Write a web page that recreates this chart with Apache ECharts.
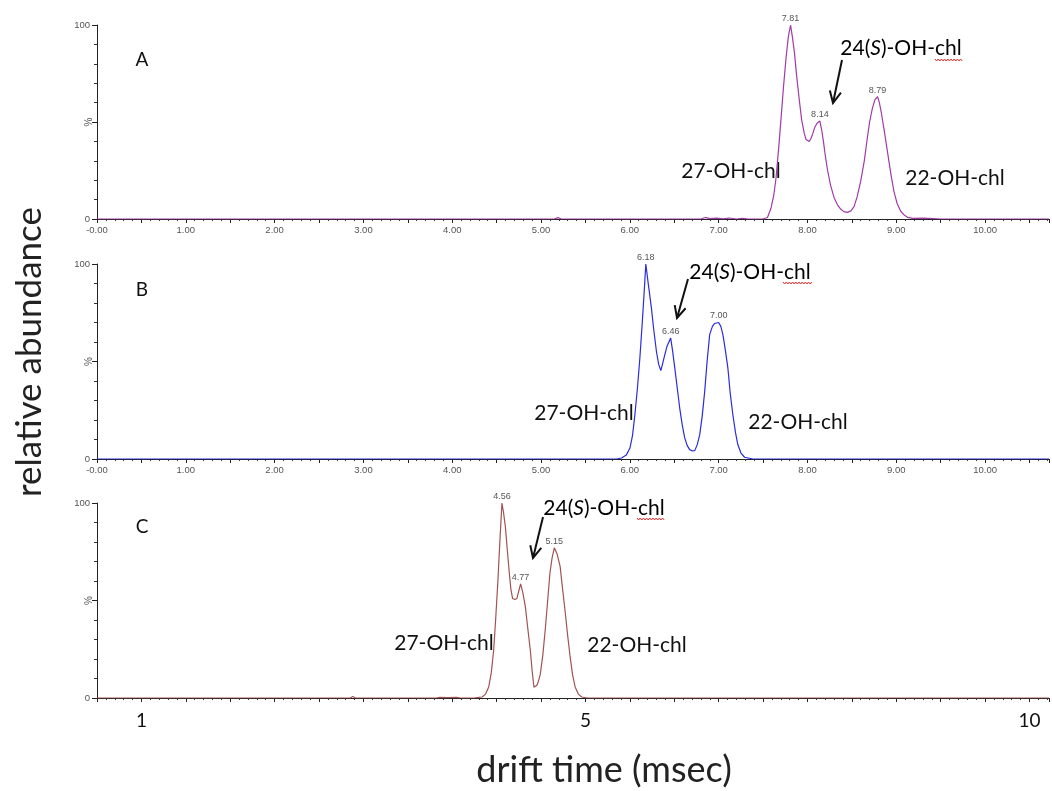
<!DOCTYPE html>
<html>
<head>
<meta charset="utf-8">
<script src="https://cdn.jsdelivr.net/npm/echarts@6/dist/echarts.min.js"></script>
<style>
  html, body { margin: 0; padding: 0; background: #ffffff; }
  #chart { width: 1052px; height: 791px; }
</style>
</head>
<body>
<div id="chart"></div>
<script>
// Ion-mobility drift-time traces: [drift time (msec), relative abundance (%)]
const traceA = [
  [0, 0], [5.15, 0], [5.19, 0.7], [5.23, 0], [6.80, 0], [6.85, 0.8], [6.90, 0.2], [6.98, 0.5],
  [7.05, 0.1], [7.12, 0.5], [7.20, 0], [7.27, 0.4], [7.33, 0], [7.50, 0], [7.55, 0.8],
  [7.59, 5.7], [7.62, 12], [7.646, 21], [7.675, 36], [7.703, 52], [7.73, 68], [7.759, 83],
  [7.785, 94], [7.81, 100], [7.83, 94], [7.853, 86], [7.88, 73], [7.909, 61], [7.935, 51],
  [7.965, 44], [7.985, 41], [8.00, 40], [8.02, 40], [8.04, 41.5], [8.06, 44], [8.08, 47],
  [8.11, 49.5], [8.14, 50.5], [8.16, 46], [8.18, 40], [8.20, 33], [8.227, 25], [8.26, 17.5],
  [8.30, 11], [8.34, 7.2], [8.376, 5], [8.41, 3.8], [8.45, 3.4], [8.49, 4.2], [8.526, 6.5],
  [8.56, 11.5], [8.60, 19.5], [8.64, 30], [8.675, 42], [8.70, 50], [8.731, 57], [8.76, 61.5],
  [8.79, 63], [8.81, 60], [8.835, 54], [8.87, 44], [8.90, 35], [8.94, 23], [8.975, 14],
  [9.01, 8], [9.05, 4], [9.09, 2], [9.13, 0.8], [9.18, 0.3], [9.30, 0.4], [9.42, 0.2],
  [9.50, 0], [10.72, 0]
];
const traceB = [
  [0, 0], [5.85, 0], [5.907, 0.5], [5.96, 2], [6.001, 5.6], [6.03, 12], [6.057, 22.7],
  [6.085, 36], [6.113, 51.8], [6.14, 70], [6.162, 86], [6.18, 100], [6.21, 89], [6.244, 77],
  [6.27, 66], [6.30, 55], [6.325, 48.5], [6.349, 45.3], [6.37, 49], [6.394, 53.5],
  [6.42, 58], [6.46, 62], [6.48, 56], [6.506, 46.7], [6.535, 36], [6.562, 26], [6.59, 17.5],
  [6.618, 10.8], [6.645, 7], [6.674, 4.8], [6.70, 4.2], [6.731, 4.3], [6.76, 7.5],
  [6.787, 12.5], [6.815, 22], [6.843, 34.7], [6.87, 50], [6.899, 63.8], [6.93, 68],
  [6.955, 69.5], [7.00, 70], [7.025, 68], [7.048, 63.8], [7.075, 56], [7.104, 46.7],
  [7.13, 34], [7.16, 22.7], [7.19, 13.5], [7.216, 7.4], [7.25, 3.2], [7.292, 0.9],
  [7.385, 0], [10.72, 0]
];
const traceC = [
  [0, 0], [2.85, 0], [2.88, 0.8], [2.91, 0], [3.82, 0], [3.86, 0.3], [3.95, 0.2], [4.05, 0.3],
  [4.09, 0], [4.25, 0], [4.30, 0.3], [4.336, 0.5], [4.375, 2], [4.411, 5.7], [4.44, 13],
  [4.467, 24.6], [4.49, 41], [4.515, 60.6], [4.535, 79], [4.56, 100], [4.578, 95], [4.598, 88],
  [4.62, 76], [4.643, 64], [4.66, 56], [4.68, 51], [4.705, 50.5], [4.728, 51], [4.75, 55],
  [4.77, 58.5], [4.795, 54], [4.823, 47], [4.85, 36], [4.879, 24.6], [4.90, 14], [4.92, 5.5],
  [4.935, 5], [4.953, 6.5], [4.97, 8.5], [4.991, 12], [5.02, 22], [5.047, 34.9], [5.075, 50],
  [5.10, 64], [5.125, 72], [5.15, 77], [5.18, 74], [5.215, 67.5], [5.24, 57], [5.27, 45],
  [5.30, 32], [5.328, 21], [5.355, 12], [5.384, 5.7], [5.42, 2], [5.458, 0.5], [5.52, 0],
  [10.72, 0]
];

// Labelled apexes [drift time, abundance]
const peaksA = [[7.81, 100], [8.14, 50.5], [8.79, 63]];
const peaksB = [[6.18, 100], [6.46, 62], [7.00, 70]];
const peaksC = [[4.56, 100], [4.77, 58.5], [5.15, 77]];

// Tick labels
const xTickLabels = ['-0.00', '1.00', '2.00', '3.00', '4.00', '5.00', '6.00', '7.00', '8.00', '9.00', '10.00'];
const cTickPositions = [0.5, 5.5, 10.5];
const cTickTexts = ['1', '5', '10'];
const yTickLabels = { 0: '0', 100: '100' };

const panelTitles = ['A', 'B', 'C'];
const compoundNames = ['27-OH-chl', '24(S)-OH-chl', '22-OH-chl'];
const axisTitleY = 'relative abundance';
const axisTitleX = 'drift time (msec)';

const colors = ['#a23aa8', '#2b2be0', '#a25252'];
const grids = [
  { left: 97, right: 0, top: 25, height: 194 },
  { left: 97, right: 0, top: 264, height: 195 },
  { left: 97, right: 0, top: 503, height: 195 }
];

const chart = echarts.init(document.getElementById('chart'), null, { renderer: 'canvas' });

function xAxisFor(i, custom) {
  return {
    type: 'value', gridIndex: i, min: 0, max: 10.72, interval: 0.5,
    axisLine: { show: true, onZero: false, lineStyle: { color: '#222', width: 1 } },
    axisTick: { show: true, inside: false, length: 4, lineStyle: { color: '#222' } },
    minorTick: { show: true, splitNumber: 5, length: 2, lineStyle: { color: '#333' } },
    splitLine: { show: false },
    axisLabel: custom ? {
      margin: 13, fontSize: 19, color: '#111', fontFamily: 'Lato',
      formatter: v => {
        const k = cTickPositions.findIndex(p => Math.abs(p - v) < 1e-6);
        return k >= 0 ? cTickTexts[k] : '';
      }
    } : {
      margin: 6, fontSize: 9.5, color: '#555', fontFamily: 'Liberation Sans',
      formatter: v => {
        const r = Math.round(v);
        return (Math.abs(v - r) < 1e-6 && r < xTickLabels.length) ? xTickLabels[r] : '';
      }
    }
  };
}

function yAxisFor(i) {
  return {
    type: 'value', gridIndex: i, min: 0, max: 100, interval: 50,
    name: '%', nameLocation: 'middle', nameGap: 3, nameRotate: 90, nameMoveOverlap: false,
    nameTextStyle: { fontSize: 10, color: '#555', fontFamily: 'Liberation Sans' },
    axisLine: { show: true, lineStyle: { color: '#222', width: 1 } },
    axisTick: { show: true, length: 5, lineStyle: { color: '#222' } },
    minorTick: { show: true, splitNumber: 5, length: 3, lineStyle: { color: '#333' } },
    splitLine: { show: false },
    axisLabel: {
      margin: 7, fontSize: 9.5, color: '#555', fontFamily: 'Liberation Sans',
      formatter: v => (yTickLabels[v] !== undefined ? yTickLabels[v] : '')
    }
  };
}

function traceSeries(i, data, peaks) {
  return {
    type: 'line', xAxisIndex: i, yAxisIndex: i, data: data,
    showSymbol: false, smooth: false,
    lineStyle: { color: colors[i], width: 1.2 },
    itemStyle: { color: colors[i] },
    z: 5,
    markPoint: {
      symbol: 'circle', symbolSize: 0, silent: true,
      label: {
        show: true, position: 'top', distance: 2, fontSize: 9, color: '#555',
        fontFamily: 'Liberation Sans',
        formatter: p => p.data.coord[0].toFixed(2)
      },
      data: peaks.map(p => ({ coord: p }))
    }
  };
}

// Annotation layout (pixel positions of the hand-placed labels)
const panelTitlePos = [[142, 60], [142, 290], [142, 527]];
const namePos = [
  { c27: [731, 171], c24: [901, 48], c22: [955, 178], arrow: [[842, 60], [833, 103]], squig: [935, 963, 60] },
  { c27: [584, 413], c24: [750, 272], c22: [798, 422], arrow: [[688, 279], [677, 318]], squig: [783, 813, 283] },
  { c27: [444, 643], c24: [604, 508], c22: [637, 645], arrow: [[543, 517], [533, 558]], squig: [637, 665, 519] }
];

const textFont = 'Lato, "Open Sans", sans-serif';
const graphics = [];

panelTitles.forEach((t, i) => {
  graphics.push({
    type: 'text', x: panelTitlePos[i][0], y: panelTitlePos[i][1],
    style: { text: t, font: '19px ' + textFont, fill: '#111', align: 'center', verticalAlign: 'middle' }
  });
});

function arrowShapes(p0, p1) {
  const dx = p1[0] - p0[0], dy = p1[1] - p0[1];
  const len = Math.hypot(dx, dy), ux = dx / len, uy = dy / len;
  const hl = 13, ang = 0.45;
  const rot = (a) => [ux * Math.cos(a) - uy * Math.sin(a), ux * Math.sin(a) + uy * Math.cos(a)];
  const l = rot(ang), r = rot(-ang);
  return [
    { type: 'line', shape: { x1: p0[0], y1: p0[1], x2: p1[0], y2: p1[1] }, style: { stroke: '#111', lineWidth: 2 } },
    { type: 'polyline', shape: { points: [[p1[0] - l[0] * hl, p1[1] - l[1] * hl], p1, [p1[0] - r[0] * hl, p1[1] - r[1] * hl]] },
      style: { stroke: '#111', lineWidth: 2, fill: null } }
  ];
}

function squiggle(x0, x1, y) {
  const pts = [];
  let up = true;
  for (let x = x0; x <= x1; x += 1.6) { pts.push([x, y + (up ? -1 : 1)]); up = !up; }
  return { type: 'polyline', shape: { points: pts }, style: { stroke: '#e02a2a', lineWidth: 1, fill: null } };
}

namePos.forEach((p) => {
  graphics.push({
    type: 'text', x: p.c27[0], y: p.c27[1],
    style: { text: compoundNames[0], font: '21px ' + textFont, fill: '#111', align: 'center', verticalAlign: 'middle' }
  });
  graphics.push({
    type: 'text', x: p.c22[0], y: p.c22[1],
    style: { text: compoundNames[2], font: '21px ' + textFont, fill: '#111', align: 'center', verticalAlign: 'middle' }
  });
  graphics.push({
    type: 'text', x: p.c24[0], y: p.c24[1],
    style: {
      text: '{n|24(}{i|S}{n|)-OH-chl}', align: 'center', verticalAlign: 'middle',
      rich: {
        n: { fontSize: 21, fontFamily: textFont, color: '#111' },
        i: { fontSize: 21, fontFamily: textFont, fontStyle: 'italic', color: '#111' }
      }
    }
  });
  arrowShapes(p.arrow[0], p.arrow[1]).forEach(g => graphics.push(g));
  graphics.push(squiggle(p.squig[0], p.squig[1], p.squig[2]));
});

graphics.push({
  type: 'text', x: 30, y: 352, rotation: Math.PI / 2,
  style: { text: axisTitleY, font: '35px ' + textFont, fill: '#222', align: 'center', verticalAlign: 'middle' }
});
graphics.push({
  type: 'text', x: 604, y: 770,
  style: { text: axisTitleX, font: '36px ' + textFont, fill: '#222', align: 'center', verticalAlign: 'middle' }
});

const option = {
  animation: false,
  backgroundColor: '#ffffff',
  grid: grids,
  xAxis: [xAxisFor(0, false), xAxisFor(1, false), xAxisFor(2, true)],
  yAxis: [yAxisFor(0), yAxisFor(1), yAxisFor(2)],
  series: [
    traceSeries(0, traceA, peaksA),
    traceSeries(1, traceB, peaksB),
    traceSeries(2, traceC, peaksC)
  ],
  graphic: graphics
};

chart.setOption(option);
</script>
</body>
</html>
